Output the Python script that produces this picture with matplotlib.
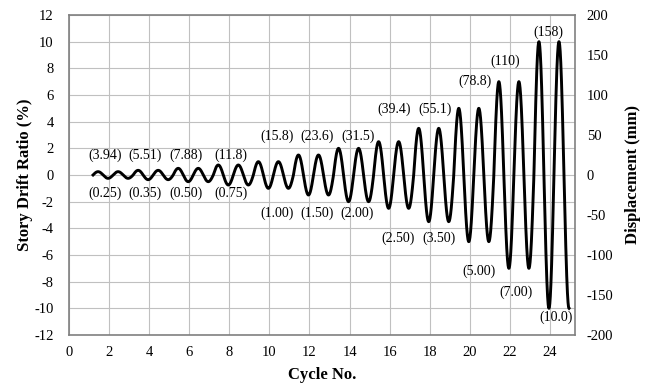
import numpy as np
import matplotlib
matplotlib.use('Agg')
import matplotlib.pyplot as plt

# loading protocol: drift ratio (%) per level, two cycles each
drift_levels = [0.25, 0.35, 0.50, 0.75, 1.00, 1.50, 2.00, 2.50, 3.50, 5.00, 7.00, 10.0]
drift_text = ['0.25', '0.35', '0.50', '0.75', '1.00', '1.50', '2.00', '2.50', '3.50', '5.00', '7.00', '10.0']
disp_text = ['3.94', '5.51', '7.88', '11.8', '15.8', '23.6', '31.5', '39.4', '55.1', '78.8', '110', '158']
cycles_per_level = 2
start_cycle = 1.2

# annotation placement (x, y in drift % units)
top_pos = [(1.8, 1.5), (3.8, 1.5), (5.83, 1.5), (8.07, 1.5), (10.37, 2.9), (12.37, 2.9),
           (14.4, 2.9), (16.2, 4.9), (18.25, 4.9), (20.25, 7.0), (21.75, 8.5), (23.94, 10.7)]
bot_pos = [(1.8, -1.35), (3.8, -1.35), (5.83, -1.35), (8.07, -1.35), (10.37, -2.85), (12.37, -2.85),
           (14.37, -2.85), (16.4, -4.75), (18.45, -4.75), (20.45, -7.2), (22.3, -8.8), (24.3, -10.7)]

plt.rcParams['font.family'] = ['Liberation Serif', 'DejaVu Serif']
plt.rcParams['axes.unicode_minus'] = False

n_cyc = len(drift_levels) * cycles_per_level
t = np.linspace(0, n_cyc - 0.25, 4000)
amp = np.array(drift_levels)[np.minimum((t // cycles_per_level).astype(int), len(drift_levels) - 1)]
x = start_cycle + t
y = amp * np.sin(2 * np.pi * t)

fig = plt.figure(figsize=(6.56, 3.9), dpi=100)
ax = fig.add_subplot(111)
fig.subplots_adjust(left=69/656, right=575/656, top=1-15/390, bottom=1-335/390)

ax.plot(x, y, color='black', lw=2.1, zorder=3)

for (px, py), s in zip(top_pos, disp_text):
    ax.text(px, py, '(' + s + ')', ha='center', va='center', fontsize=10)
for (px, py), s in zip(bot_pos, drift_text):
    ax.text(px, py, '(' + s + ')', ha='center', va='center', fontsize=10)

ax.set_xlim(0, 25.25)
ax.set_ylim(-12, 12)
ax.set_xticks(np.arange(0, 25, 2))
ax.set_yticks(np.arange(-12, 13, 2))
ax.grid(True, color='#c0c0c0', lw=0.8)
ax.set_axisbelow(True)
ax.tick_params(axis='x', length=0, labelsize=10.5, pad=8)
ax.tick_params(axis='y', length=0, labelsize=10.5, pad=11)
for sp in ax.spines.values():
    sp.set_color('#808080')
    sp.set_linewidth(1.2)

ax.set_xlabel('Cycle No.', fontsize=12, fontweight='bold', labelpad=6)
ax.set_ylabel('Story Drift Ratio (%)', fontsize=12, fontweight='bold', labelpad=1)

ax2 = ax.twinx()
ax2.set_ylim(-200, 200)
ax2.set_yticks(np.arange(-200, 201, 50))
ax2.tick_params(length=0, labelsize=10.5, pad=8.5)
for sp in ax2.spines.values():
    sp.set_visible(False)
ax2.set_ylabel('Displacement (mm)', fontsize=12, fontweight='bold', labelpad=8)

fig.savefig('out.png', dpi=100)
